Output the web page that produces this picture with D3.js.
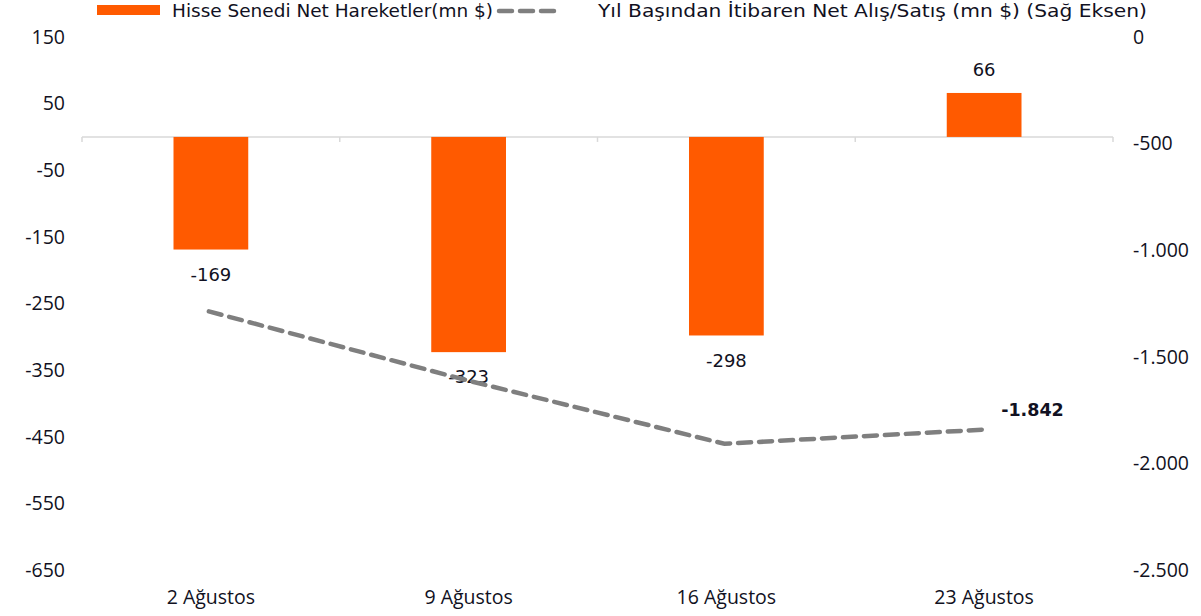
<!DOCTYPE html>
<html><head><meta charset="utf-8">
<script src="https://cdn.jsdelivr.net/npm/d3@7"></script>
<style>body{margin:0;background:#fff}svg{display:block}</style>
</head><body>
<svg id="c" width="1201" height="616"></svg>
<script>
const categories = ["2 Ağustos","9 Ağustos","16 Ağustos","23 Ağustos"];
const netFlows = [-169,-323,-298,66];
const cumulative = [-1287,-1610,-1908,-1842];
const leftTicks = [150,50,-50,-150,-250,-350,-450,-550,-650];
const rightTicks = [0,-500,-1000,-1500,-2000,-2500];
const seriesNames = ["Hisse Senedi Net Hareketler(mn $)","Yıl Başından İtibaren Net Alış/Satış (mn $) (Sağ Eksen)"];

const svg = d3.select("#c");
const W=1201,H=616;
const m={l:82,r:88,t:37,b:46};
const x=d3.scaleBand().domain(categories).range([m.l,W-m.r]).paddingInner(0.71).paddingOuter(0.355);
const xb=d3.scaleBand().domain(categories).range([m.l,W-m.r]);
const yL=d3.scaleLinear().domain([-650,150]).range([H-m.b,m.t]);
const yR=d3.scaleLinear().domain([-2500,0]).range([H-m.b,m.t]);
const tickFont="'Open Sans', sans-serif";
const legFont="'DejaVu Sans', sans-serif";
const orange="#ff5a00", grey="#7f7f7f", txt="#111122";

// left axis labels
svg.append("g").selectAll("text").data(leftTicks).join("text")
 .attr("x",65).attr("y",d=>yL(d)).attr("dy","0.35em").attr("text-anchor","end")
 .attr("font-family",tickFont).attr("font-size",19.5).attr("fill",txt).text(d=>d);
// right axis labels
const fmt=d=>d3.format(",")(d).replace(/,/g,".").replace("−","-");
svg.append("g").selectAll("text").data(rightTicks).join("text")
 .attr("x",1133).attr("y",d=>yR(d)).attr("dy","0.35em").attr("text-anchor","start")
 .attr("font-family",tickFont).attr("font-size",19.5).attr("fill",txt).text(d=>fmt(d));

// zero axis line
const y0=yL(0);
svg.append("line").attr("x1",m.l).attr("x2",W-m.r).attr("y1",y0).attr("y2",y0)
 .attr("stroke","#d9d9d9").attr("stroke-width",1.5);
const bounds=categories.map(c=>xb(c)).concat([W-m.r]);
svg.append("g").selectAll("line").data(bounds).join("line")
 .attr("x1",d=>d).attr("x2",d=>d).attr("y1",y0).attr("y2",y0+5)
 .attr("stroke","#d9d9d9").attr("stroke-width",1.5);

// bars
svg.append("g").selectAll("rect").data(netFlows).join("rect")
 .attr("x",(d,i)=>x(categories[i])).attr("width",x.bandwidth())
 .attr("y",d=>Math.min(yL(d),y0)).attr("height",d=>Math.abs(yL(d)-y0))
 .attr("fill",orange);
// bar labels
svg.append("g").selectAll("text").data(netFlows).join("text")
 .attr("x",(d,i)=>x(categories[i])+x.bandwidth()/2)
 .attr("y",d=>d<0?yL(d)+25:yL(d)-23).attr("dy","0.35em").attr("text-anchor","middle")
 .attr("font-family",legFont).attr("font-size",18).attr("fill",txt).text(d=>d);

// line
const cx=c=>xb(c)+xb.bandwidth()/2-2;
svg.append("path").datum(cumulative)
 .attr("d",d3.line().x((d,i)=>cx(categories[i])).y(d=>yR(d)))
 .attr("fill","none").attr("stroke",grey).attr("stroke-width",4.5)
 .attr("stroke-dasharray","13,8").attr("stroke-linecap","round");
// last point label
svg.append("text").attr("x",cx(categories[3])+19).attr("y",yR(cumulative[3])-20).attr("dy","0.35em")
 .attr("font-family",legFont).attr("font-size",17.5).attr("font-weight","bold").attr("fill",txt)
 .text(fmt(cumulative[3]));

// x labels
svg.append("g").selectAll("text").data(categories).join("text")
 .attr("x",c=>xb(c)+xb.bandwidth()/2).attr("y",597).attr("dy","0.35em").attr("text-anchor","middle")
 .attr("font-family",tickFont).attr("font-size",19.5).attr("fill",txt).text(d=>d);

// legend
const lg=svg.append("g");
lg.append("rect").attr("x",97).attr("y",5).attr("width",63).attr("height",10).attr("fill",orange);
lg.append("text").attr("x",172).attr("y",11).attr("dy","0.35em").attr("font-family",legFont)
 .attr("font-size",18.5).attr("fill",txt).attr("textLength",321).attr("lengthAdjust","spacingAndGlyphs").text(seriesNames[0]);
lg.append("line").attr("x1",499).attr("x2",555).attr("y1",11).attr("y2",11)
 .attr("stroke",grey).attr("stroke-width",4.5).attr("stroke-dasharray","13,8").attr("stroke-linecap","round");
lg.append("text").attr("x",598).attr("y",11).attr("dy","0.35em").attr("font-family",legFont)
 .attr("font-size",18.5).attr("fill",txt).attr("textLength",549).attr("lengthAdjust","spacingAndGlyphs").text(seriesNames[1]);
</script>
</body></html>
